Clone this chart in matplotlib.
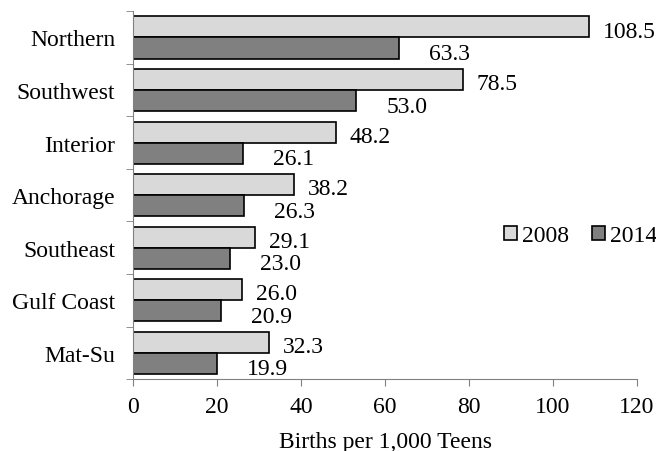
import matplotlib.pyplot as plt
import numpy as np

regions = ["Northern", "Southwest", "Interior", "Anchorage", "Southeast", "Gulf Coast", "Mat-Su"]
rate_2008 = [108.5, 78.5, 48.2, 38.2, 29.1, 26.0, 32.3]
rate_2014 = [63.3, 53.0, 26.1, 26.3, 23.0, 20.9, 19.9]
x_ticks = [0, 20, 40, 60, 80, 100, 120]

plt.rcParams['font.family'] = ['Liberation Serif', 'DejaVu Serif']
fs = 17

fig = plt.figure(figsize=(6.56, 4.52), dpi=100)
ax = fig.add_axes([0.203, 0.159, 0.768, 0.814])

pos = np.arange(len(regions))[::-1]
h = 0.4
ax.barh(pos + h / 2, rate_2008, height=h, color='#d9d9d9', edgecolor='black', linewidth=1.2, label='2008')
ax.barh(pos - h / 2, rate_2014, height=h, color='#808080', edgecolor='black', linewidth=1.2, label='2014')

# value labels
for p, v in zip(pos, rate_2008):
    ax.annotate(f"{v:.1f}", (v, p + h / 2), xytext=(10, -3), textcoords='offset points',
                va='center', ha='left', fontsize=fs)
for p, v in zip(pos, rate_2014):
    ax.annotate(f"{v:.1f}", (v, p - h / 2), xytext=(22, -4), textcoords='offset points',
                va='center', ha='left', fontsize=fs)

ax.set_xlim(0, 120)
ax.set_ylim(-0.5, len(regions) - 0.5)
ax.set_xticks(x_ticks)
ax.set_xlabel("Births per 1,000 Teens", fontsize=fs, labelpad=10)

ax.set_yticks(pos)
ax.set_yticklabels(regions, fontsize=fs)
ax.tick_params(axis='y', length=0, pad=13)
ax.set_yticks(np.arange(-0.5, len(regions)), minor=True)
ax.tick_params(axis='y', which='minor', length=5, direction='out')
ax.tick_params(axis='x', length=5, direction='out', pad=7, labelsize=fs)

for s in ['top', 'right']:
    ax.spines[s].set_visible(False)
ax.spines['left'].set_color('#808080')
ax.spines['bottom'].set_color('#808080')
ax.tick_params(which='both', color='#808080')

ax.legend(loc='center right', bbox_to_anchor=(1.04, 0.39), ncol=2, frameon=False,
          handlelength=0.55, handleheight=0.55, handletextpad=0.2, columnspacing=1.0,
          fontsize=fs, borderpad=0, borderaxespad=0)

fig.savefig("out.png", dpi=100)
